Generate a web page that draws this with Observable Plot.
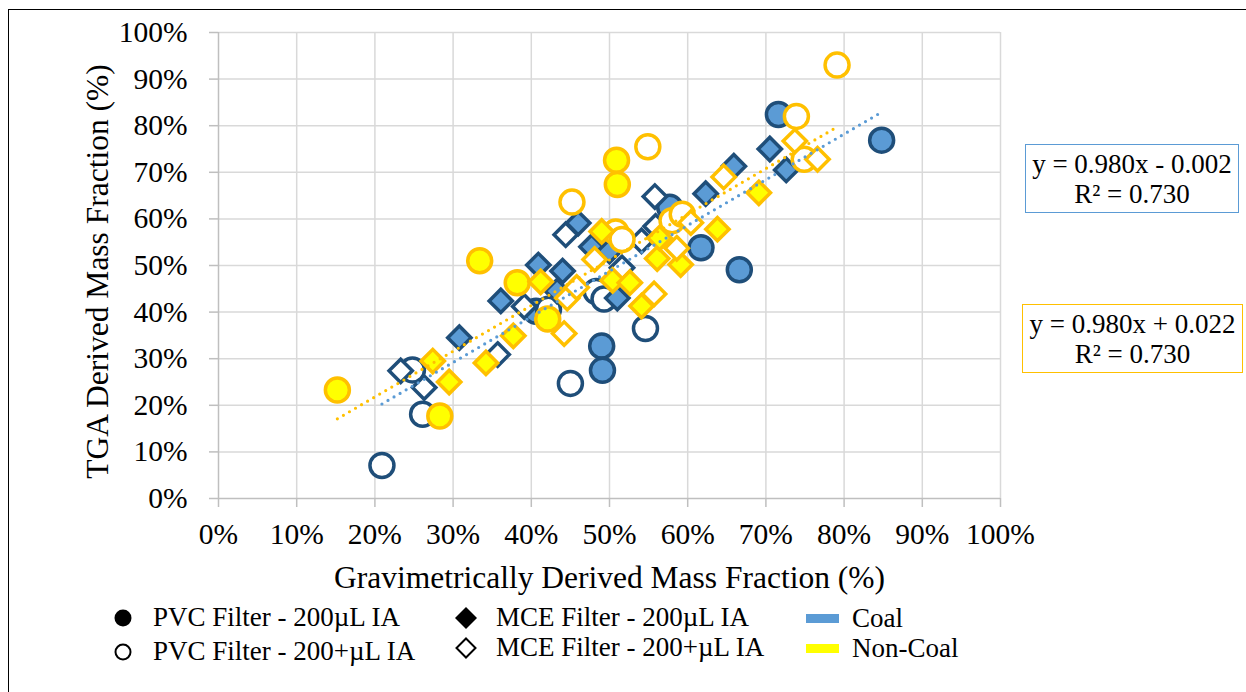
<!DOCTYPE html>
<html>
<head>
<meta charset="utf-8">
<script src="https://cdn.jsdelivr.net/npm/d3@7"></script>
<script src="https://cdn.jsdelivr.net/npm/@observablehq/plot@0.6"></script>
<style>
  html, body { margin: 0; padding: 0; background: #fff; overflow: hidden; }
  #wrap { position: relative; width: 1246px; height: 692px; overflow: hidden;
          font-family: "Liberation Serif", "Times New Roman", serif; color: #000; }
  #frame { position: absolute; left: 8px; top: 9px; width: 1260px; height: 700px;
           border: 1.5px solid #000; box-sizing: border-box; pointer-events: none; }
  #chart { position: absolute; left: 0; top: 0; }
  .leg { position: absolute; font-size: 27px; line-height: 1; white-space: nowrap; }
  .leg svg { position: absolute; }
  .eq { position: absolute; box-sizing: border-box; background: #fff;
        font-size: 27px; line-height: 30px; text-align: center; padding-top: 4px; }
</style>
</head>
<body>
<div id="wrap">
  <div id="chart"></div>
  <div id="legend"></div>
  <div id="frame"></div>
</div>
<script>
// Gravimetric vs TGA derived mass fraction, in percent: [gravimetric, TGA]
const coalPvc200 = [[71.6, 82.4], [84.8, 76.9], [66.6, 49.1], [61.7, 53.8], [57.7, 62.5],
  [49.0, 32.7], [49.1, 27.5], [40.6, 40.2]];
const coalPvc200Plus = [[20.9, 7.1], [26.1, 18.1], [24.8, 27.6], [45.0, 24.7], [54.6, 36.5],
  [48.3, 44.4], [49.3, 42.8], [42.2, 40.6]];
const coalMce200 = [[30.8, 34.5], [36.1, 42.4], [40.9, 50.1], [44.0, 48.8], [43.3, 44.5],
  [46.0, 59.1], [47.7, 54.0], [50.0, 53.1], [51.0, 43.0], [62.3, 65.4], [65.9, 71.3],
  [70.5, 75.0], [72.6, 70.5]];
const coalMce200Plus = [[23.3, 27.4], [26.3, 23.8], [35.7, 30.9], [39.1, 41.2], [44.4, 56.6],
  [55.8, 64.8], [54.1, 55.3], [51.6, 49.5], [55.9, 58.4]];

const nonCoalPvc200 = [[15.2, 23.3], [28.3, 17.7], [33.4, 51.0], [38.2, 46.3], [42.1, 38.5],
  [50.9, 72.6], [51.0, 67.4]];
const nonCoalPvc200Plus = [[45.2, 63.6], [54.9, 75.5], [50.8, 57.2], [51.6, 55.6], [58.0, 59.6],
  [59.3, 61.0], [79.1, 93.0], [73.9, 82.0], [74.9, 72.8]];
const nonCoalMce200 = [[27.4, 29.5], [29.5, 25.0], [34.2, 29.1], [37.7, 34.9], [41.2, 46.5],
  [49.0, 57.3], [50.4, 46.8], [52.6, 46.3], [54.1, 41.3], [56.1, 51.5], [56.4, 55.9],
  [59.1, 50.2], [63.8, 57.8], [69.1, 65.6]];
const nonCoalMce200Plus = [[44.2, 35.4], [44.6, 43.0], [45.8, 45.3], [48.1, 51.3], [55.7, 43.9],
  [58.6, 53.7], [60.4, 59.2], [64.6, 69.0], [73.7, 76.7], [76.6, 72.8]];

// Linear trend fits (fractions)
const coalFit = { slope: 0.980, intercept: -0.002, r2: 0.730 };
const nonCoalFit = { slope: 0.980, intercept: 0.022, r2: 0.730 };

const axisTicks = [0, 0.1, 0.2, 0.3, 0.4, 0.5, 0.6, 0.7, 0.8, 0.9, 1.0];
const legendFilters = ["PVC Filter - 200µL IA", "PVC Filter - 200+µL IA",
  "MCE Filter - 200µL IA", "MCE Filter - 200+µL IA"];
const legendGroups = ["Coal", "Non-Coal"];

const palette = {
  Coal: { stroke: "#1F4E79", fill: "#5B9BD5", trend: "#5B9BD5" },
  "Non-Coal": { stroke: "#FFC000", fill: "#FFFF00", trend: "#FFC000" }
};

const series = [
  { group: "Coal", pts: coalPvc200, symbol: "circle", filled: true },
  { group: "Coal", pts: coalPvc200Plus, symbol: "circle", filled: false },
  { group: "Coal", pts: coalMce200, symbol: "diamond2", filled: true },
  { group: "Coal", pts: coalMce200Plus, symbol: "diamond2", filled: false },
  { group: "Non-Coal", pts: nonCoalPvc200, symbol: "circle", filled: true },
  { group: "Non-Coal", pts: nonCoalPvc200Plus, symbol: "circle", filled: false },
  { group: "Non-Coal", pts: nonCoalMce200, symbol: "diamond2", filled: true },
  { group: "Non-Coal", pts: nonCoalMce200Plus, symbol: "diamond2", filled: false }
];

const toRows = pts => pts.map(([gx, gy]) => ({ x: gx / 100, y: gy / 100 }));

function trendRows(groupSeries, fit) {
  const xs = groupSeries.flatMap(s => s.pts.map(p => p[0] / 100));
  const [x0, x1] = d3.extent(xs);
  return [x0, x1].map(x => ({ x, y: fit.slope * x + fit.intercept }));
}

const pct = d => `${Math.round(d * 100)}%`;

const dotMarks = series.map(s => Plot.dot(toRows(s.pts), {
  x: "x", y: "y",
  symbol: s.symbol,
  r: s.symbol === "circle" ? 12 : 10.5,
  fill: s.filled ? palette[s.group].fill : "#ffffff",
  stroke: palette[s.group].stroke,
  strokeWidth: 3.5
}));

const trendMarks = [
  ["Coal", coalFit],
  ["Non-Coal", nonCoalFit]
].map(([g, fit]) => Plot.line(trendRows(series.filter(s => s.group === g), fit), {
  x: "x", y: "y",
  stroke: palette[g].trend,
  strokeWidth: 3.2,
  strokeDasharray: "0 7",
  strokeLinecap: "round"
}));

const serif = "'Liberation Serif', 'Times New Roman', serif";

const chart = Plot.plot({
  width: 1246,
  height: 692,
  marginLeft: 218,
  marginRight: 246,
  marginTop: 32,
  marginBottom: 194,
  style: { fontFamily: serif, fontSize: "29px", background: "transparent", color: "#000" },
  x: { domain: [0, 1] },
  y: { domain: [0, 1] },
  marks: [
    Plot.gridX(axisTicks.slice(1), { stroke: "#d9d9d9", strokeOpacity: 1, strokeWidth: 1.5 }),
    Plot.gridY(axisTicks.slice(1), { stroke: "#d9d9d9", strokeOpacity: 1, strokeWidth: 1.5 }),
    Plot.ruleY([0], { stroke: "#bfbfbf", strokeWidth: 1.5 }),
    Plot.ruleX([0], { stroke: "#bfbfbf", strokeWidth: 1.5 }),
    Plot.axisX(axisTicks, { tickFormat: pct, tickSize: 9, tickPadding: 16, stroke: "#bfbfbf",
      strokeWidth: 1.5, label: null, fontSize: 29.5, fontFamily: serif, fill: "#000" }),
    Plot.axisY(axisTicks, { tickFormat: pct, tickSize: 9, tickPadding: 22, stroke: "#bfbfbf",
      strokeWidth: 1.5, label: null, fontSize: 29.5, fontFamily: serif, fill: "#000" }),
    Plot.text(["Gravimetrically Derived Mass Fraction (%)"], { frameAnchor: "bottom", dy: 89,
      fontSize: 31.5, fontFamily: serif, textAnchor: "middle", fill: "#000" }),
    Plot.text(["TGA Derived Mass Fraction (%)"], { frameAnchor: "left", dx: -121, dy: 6,
      rotate: -90, textAnchor: "middle", fontSize: 31.5, fontFamily: serif, fill: "#000" }),
    ...dotMarks,
    ...trendMarks
  ]
});
document.getElementById("chart").appendChild(chart);

// Legend and trend equation boxes
const legend = document.getElementById("legend");
function legendItem(left, top, symbolSvg, text) {
  const el = document.createElement("div");
  el.className = "leg";
  el.style.left = left + "px";
  el.style.top = top + "px";
  el.innerHTML = symbolSvg + `<span style="position:absolute;left:30px;top:-14px">${text}</span>`;
  legend.appendChild(el);
}
const circleSym = filled => `<svg width="24" height="24" style="left:-12px;top:-12px" viewBox="-12 -12 24 24">
  <circle r="${filled ? 8.5 : 7.5}" fill="${filled ? "#000" : "#fff"}" stroke="#000" stroke-width="${filled ? 0 : 2}"/></svg>`;
const diamondSym = filled => `<svg width="28" height="28" style="left:-14px;top:-14px" viewBox="-14 -14 28 28">
  <path d="${filled ? "M0,-11L11,0L0,11L-11,0Z" : "M0,-9.5L9.5,0L0,9.5L-9.5,0Z"}" fill="${filled ? "#000" : "#fff"}" stroke="#000" stroke-width="${filled ? 0 : 2}"/></svg>`;
const barSym = color => `<svg width="34" height="10" style="left:-16px;top:-5px"><rect width="33" height="9" fill="${color}"/></svg>`;

legendItem(123, 618, circleSym(true), legendFilters[0]);
legendItem(123, 652, circleSym(false), legendFilters[1]);
legendItem(466, 618, diamondSym(true), legendFilters[2]);
legendItem(466, 648, diamondSym(false), legendFilters[3]);
legendItem(822, 619, barSym(palette.Coal.fill), legendGroups[0]);
legendItem(822, 649, barSym(palette["Non-Coal"].fill), legendGroups[1]);

const fmt = v => v.toFixed(3);
function eqBox(left, top, width, height, color, fit) {
  const el = document.createElement("div");
  el.className = "eq";
  Object.assign(el.style, { left: left + "px", top: top + "px", width: width + "px",
    height: height + "px", border: `1.5px solid ${color}` });
  const sign = fit.intercept < 0 ? "-" : "+";
  el.innerHTML = `y = ${fmt(fit.slope)}x ${sign} ${fmt(Math.abs(fit.intercept))}<br>R² = ${fmt(fit.r2)}`;
  document.getElementById("wrap").appendChild(el);
}
eqBox(1025, 144, 214, 69, palette.Coal.trend, coalFit);
eqBox(1022, 304, 221, 69, palette["Non-Coal"].trend, nonCoalFit);
</script>
</body>
</html>
